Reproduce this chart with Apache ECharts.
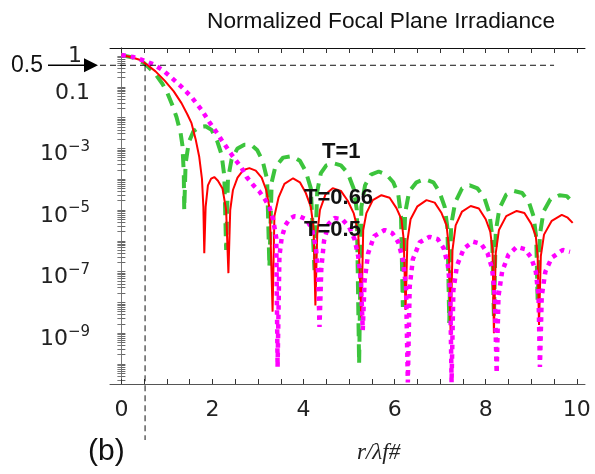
<!DOCTYPE html>
<html>
<head>
<meta charset="utf-8">
<script src="https://cdn.jsdelivr.net/npm/echarts@6/dist/echarts.min.js"></script>
<style>
  html, body { margin: 0; padding: 0; background: #fff; }
  #main { width: 595px; height: 474px; }
</style>
</head>
<body>
<div id="main"></div>
<script>
// values; y values stored as log10 of irradiance
const greenX = [0, 0.25, 0.5, 0.73, 0.9, 1.01, 1.12, 1.21, 1.3, 1.34, 1.37, 1.38, 1.41, 1.48, 1.58, 1.72, 1.85, 1.98, 2.1, 2.2, 2.26, 2.3, 2.34, 2.42, 2.55, 2.7, 2.85, 2.98, 3.1, 3.2, 3.25, 3.3, 3.38, 3.55, 3.75, 3.92, 4.05, 4.16, 4.24, 4.3, 4.38, 4.5, 4.65, 4.82, 4.97, 5.1, 5.17, 5.22, 5.27, 5.35, 5.48, 5.65, 5.82, 5.97, 6.08, 6.14, 6.18, 6.23, 6.32, 6.48, 6.66, 6.85, 6.98, 7.1, 7.16, 7.2, 7.24, 7.33, 7.48, 7.65, 7.82, 7.97, 8.08, 8.14, 8.18, 8.22, 8.3, 8.45, 8.62, 8.8, 8.95, 9.05, 9.11, 9.14, 9.19, 9.27, 9.42, 9.62, 9.78, 9.88];
const greenLog = [0.03, -0.05, -0.23, -0.55, -0.9, -1.2, -1.6, -1.98, -2.5, -2.9, -3.8, -5.0, -3.5, -2.8, -2.45, -2.3, -2.28, -2.4, -2.75, -3.2, -3.9, -6.3, -4.0, -3.35, -3.0, -2.88, -2.88, -3.05, -3.4, -4.0, -6.85, -4.1, -3.6, -3.3, -3.25, -3.4, -3.75, -4.3, -6.95, -4.4, -3.8, -3.55, -3.48, -3.55, -3.8, -4.3, -5.0, -10.0, -4.9, -4.2, -3.85, -3.75, -3.85, -4.1, -4.5, -5.2, -8.15, -5.1, -4.4, -4.1, -4.0, -4.1, -4.4, -4.9, -5.6, -8.67, -5.5, -4.75, -4.3, -4.2, -4.3, -4.6, -5.1, -5.8, -8.47, -5.7, -4.95, -4.5, -4.38, -4.45, -4.75, -5.2, -5.9, -7.95, -5.8, -5.05, -4.65, -4.52, -4.55, -4.7];

const redX = [0, 0.2, 0.4, 0.55, 0.75, 0.95, 1.15, 1.32, 1.45, 1.54, 1.63, 1.71, 1.77, 1.8, 1.82, 1.85, 1.9, 1.97, 2.04, 2.12, 2.22, 2.3, 2.35, 2.39, 2.45, 2.55, 2.68, 2.81, 2.95, 3.08, 3.18, 3.26, 3.32, 3.36, 3.45, 3.58, 3.77, 3.92, 4.05, 4.16, 4.22, 4.26, 4.3, 4.36, 4.48, 4.64, 4.82, 4.97, 5.1, 5.2, 5.27, 5.31, 5.38, 5.52, 5.71, 5.89, 6.04, 6.15, 6.2, 6.24, 6.28, 6.35, 6.5, 6.7, 6.88, 7.03, 7.14, 7.19, 7.23, 7.27, 7.34, 7.48, 7.67, 7.85, 8.0, 8.1, 8.15, 8.18, 8.22, 8.29, 8.45, 8.68, 8.85, 9.0, 9.1, 9.14, 9.17, 9.21, 9.28, 9.45, 9.67, 9.8, 9.91];
const redLog = [0.03, -0.03, -0.12, -0.27, -0.5, -0.8, -1.15, -1.53, -1.9, -2.18, -2.7, -3.28, -4.0, -4.9, -6.4, -4.9, -4.2, -3.98, -3.93, -4.05, -4.3, -5.0, -7.05, -5.0, -4.35, -3.95, -3.7, -3.64, -3.72, -3.95, -4.35, -5.0, -8.3, -5.2, -4.6, -4.15, -3.97, -4.1, -4.45, -4.9, -5.6, -8.1, -5.8, -5.0, -4.5, -4.29, -4.38, -4.7, -5.1, -5.7, -8.5, -5.65, -5.1, -4.68, -4.52, -4.6, -4.94, -5.3, -5.97, -8.25, -6.0, -5.3, -4.88, -4.68, -4.76, -5.1, -5.5, -6.2, -9.06, -6.3, -5.5, -5.05, -4.87, -4.95, -5.3, -5.7, -6.3, -9.0, -6.4, -5.65, -5.2, -5.03, -5.1, -5.45, -5.85, -6.5, -8.73, -6.5, -5.8, -5.35, -5.16, -5.25, -5.42];

const magX = [0, 0.25, 0.5, 0.7, 0.9, 1.1, 1.32, 1.55, 1.76, 1.93, 2.1, 2.2, 2.42, 2.64, 2.75, 2.9, 3.03, 3.15, 3.25, 3.33, 3.4, 3.43, 3.47, 3.52, 3.6, 3.7, 3.8, 3.93, 4.06, 4.18, 4.27, 4.32, 4.35, 4.39, 4.45, 4.55, 4.68, 4.85, 5.0, 5.12, 5.2, 5.26, 5.3, 5.34, 5.42, 5.55, 5.78, 5.95, 6.08, 6.18, 6.25, 6.29, 6.33, 6.4, 6.55, 6.77, 6.95, 7.08, 7.17, 7.22, 7.25, 7.29, 7.37, 7.52, 7.72, 7.9, 8.04, 8.14, 8.2, 8.24, 8.28, 8.36, 8.5, 8.68, 8.86, 9.0, 9.1, 9.16, 9.19, 9.23, 9.31, 9.45, 9.69, 9.85];
const magLog = [0.03, -0.03, -0.15, -0.27, -0.45, -0.7, -1.0, -1.35, -1.75, -2.14, -2.5, -2.73, -3.2, -3.64, -3.93, -4.2, -4.4, -4.65, -4.9, -5.3, -5.9, -10.1, -6.5, -5.9, -5.5, -5.28, -5.2, -5.22, -5.3, -5.6, -6.2, -7.0, -8.8, -6.9, -6.0, -5.45, -5.26, -5.3, -5.55, -5.95, -6.5, -7.3, -8.9, -7.3, -6.4, -5.85, -5.65, -5.75, -6.05, -6.6, -7.5, -10.6, -7.5, -6.6, -6.05, -5.87, -5.95, -6.25, -6.8, -7.6, -10.6, -7.6, -6.8, -6.25, -6.03, -6.1, -6.4, -6.9, -7.8, -10.3, -7.8, -7.0, -6.45, -6.2, -6.27, -6.55, -7.0, -7.8, -10.1, -7.8, -7.0, -6.55, -6.3, -6.36];

const xTickLabels = [0, 2, 4, 6, 8, 10];
const yTickLabels = [1, 0.1, 1e-3, 1e-5, 1e-7, 1e-9];

const xMin = -0.25, xMax = 10.18;
const yMin = Math.pow(10, -10.65), yMax = Math.pow(10, 0.26);

function pairs(xs, logs) {
  return xs.map((x, i) => [x, Math.pow(10, logs[i])]);
}

const xTicks = [];
for (let i = 0; i <= 20; i++) xTicks.push(i * 0.5);
const yTicks = [];
for (let e = -11; e <= 0; e++) {
  for (let m = 1; m <= 9; m++) {
    const v = m * Math.pow(10, e);
    if (v >= yMin && v <= yMax) yTicks.push(v);
  }
}

const labelFont = 'DejaVu Sans';

const chart = echarts.init(document.getElementById('main'), null, { renderer: 'canvas' });

const option = {
  animation: false,
  title: {
    text: 'Normalized Focal Plane Irradiance',
    left: 202,
    top: 5,
    textStyle: { fontFamily: 'Liberation Sans', fontSize: 22.7, fontWeight: 'normal', color: '#111' },
  },
  grid: { left: 110, right: 10, top: 48, bottom: 90 },
  xAxis: [{
    type: 'value',
    min: xMin,
    max: xMax,
    axisLine: { lineStyle: { color: '#555', width: 1 } },
    axisTick: { inside: true, length: 5, customValues: xTicks, lineStyle: { color: '#333' } },
    axisLabel: {
      customValues: xTickLabels,
      margin: 15,
      fontFamily: labelFont,
      fontSize: 22,
      color: '#222',
    },
    splitLine: { show: false },
  }, {
    type: 'value',
    position: 'top',
    min: xMin,
    max: xMax,
    axisLine: { show: true, lineStyle: { color: '#111', width: 1 } },
    axisTick: { inside: true, length: 5, customValues: xTicks, lineStyle: { color: '#333' } },
    axisLabel: { show: false },
    splitLine: { show: false },
  }],
  yAxis: [{
    type: 'log',
    logBase: 10,
    min: yMin,
    max: yMax,
    axisLine: { show: true, lineStyle: { color: '#111', width: 1 } },
    axisTick: { inside: true, length: 4, customValues: yTicks, lineStyle: { color: '#666' } },
    axisLabel: {
      customValues: yTickLabels,
      margin: 20,
      padding: [12, 0, 0, 0],
      formatter(v) {
        if (v > 0.5) return '{one|1}';
        if (v > 0.05) return '{b|0.1}';
        const e = Math.round(Math.log10(v));
        return '{b|10}{s|\u2212' + (-e) + '}';
      },
      rich: {
        b: { fontFamily: labelFont, fontSize: 22, color: '#222', lineHeight: 30 },
        s: { fontFamily: labelFont, fontSize: 15, color: '#222', lineHeight: 14, verticalAlign: 'top' },
        one: { fontFamily: labelFont, fontSize: 22, color: '#222', padding: [0, 8, 12, 0] },
      },
    },
    splitLine: { show: false },
  }, {
    type: 'log',
    logBase: 10,
    position: 'right',
    min: yMin,
    max: yMax,
    axisLine: { show: true, lineStyle: { color: '#777', width: 1 } },
    axisTick: { inside: true, length: 4, customValues: yTicks, lineStyle: { color: '#777' } },
    axisLabel: { show: false },
    splitLine: { show: false },
  }],
  series: [
    {
      name: 'T=1',
      type: 'line',
      data: pairs(greenX, greenLog),
      showSymbol: false,
      lineStyle: { color: '#3cc43c', width: 4, type: [13, 8] },
      z: 2,
    },
    {
      name: 'T=0.66',
      type: 'line',
      data: pairs(redX, redLog),
      showSymbol: false,
      lineStyle: { color: '#ff0000', width: 2 },
      z: 3,
    },
    {
      name: 'T=0.5',
      type: 'line',
      data: pairs(magX, magLog),
      showSymbol: false,
      lineStyle: { color: '#ff00ff', width: 4.5, type: [4.5, 5] },
      z: 4,
    },
  ],
};

chart.setOption(option);

// dashed guides at half power, arrow and text annotations
const p0 = chart.convertToPixel({ xAxisIndex: 0, yAxisIndex: 0 }, [0.52, 0.5]);
const pEnd = chart.convertToPixel({ xAxisIndex: 0, yAxisIndex: 0 }, [9.5, 0.5]);
const guide = { stroke: '#111', lineWidth: 1, lineDash: [6, 4] };

chart.setOption({
  graphic: [
    { type: 'line', shape: { x1: 100, y1: p0[1], x2: pEnd[0], y2: p0[1] }, style: guide, z: 10 },
    { type: 'line', shape: { x1: p0[0], y1: p0[1], x2: p0[0], y2: 440 }, style: guide, z: 10 },
    { type: 'line', shape: { x1: 48, y1: p0[1], x2: 86, y2: p0[1] }, style: { stroke: '#000', lineWidth: 1.5 }, z: 10 },
    { type: 'polygon', shape: { points: [[84, p0[1] - 7], [98, p0[1]], [84, p0[1] + 7]] }, style: { fill: '#000' }, z: 10 },
    { type: 'text', left: 11, top: p0[1] - 11, style: { text: '0.5', font: '23px "Liberation Sans"', fill: '#111' } },
    { type: 'text', left: 322, top: 141, style: { text: 'T=1', font: 'bold 22px "Liberation Sans"', fill: '#111' }, z: 20 },
    { type: 'text', left: 304, top: 187, style: { text: 'T=0.66', font: 'bold 22px "Liberation Sans"', fill: '#111' }, z: 20 },
    { type: 'text', left: 304, top: 219, style: { text: 'T=0.5', font: 'bold 22px "Liberation Sans"', fill: '#111' }, z: 20 },
    { type: 'text', left: 88, top: 437, style: { text: '(b)', font: '30px "Liberation Sans"', fill: '#111' } },
    { type: 'text', left: 357, top: 441, style: { text: 'r/\u03bbf#', font: 'italic 23px "Liberation Serif"', fill: '#222' } },
  ],
});
</script>
</body>
</html>
